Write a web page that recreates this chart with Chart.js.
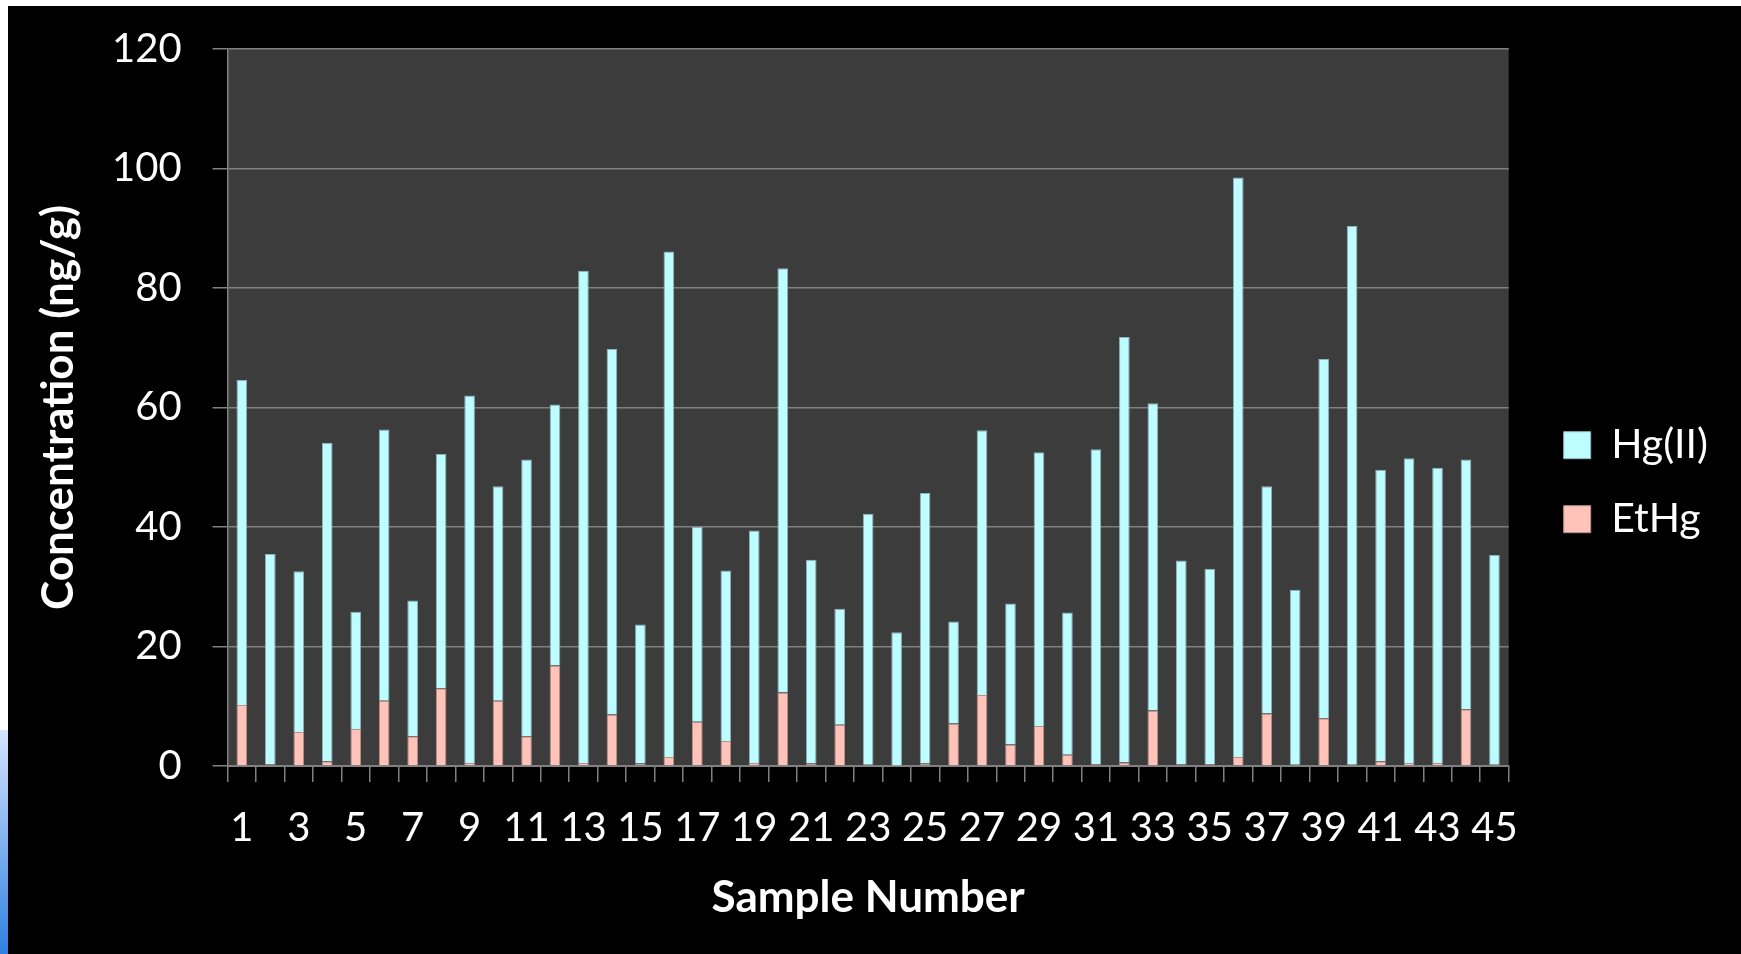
<!DOCTYPE html>
<html>
<head>
<meta charset="utf-8">
<script src="https://cdn.jsdelivr.net/npm/chart.js@4.4.1/dist/chart.umd.min.js"></script>
<style>
  html, body { margin: 0; padding: 0; background: #fff; overflow: hidden; }
  #slide { position: absolute; left: 8px; top: 6px; right: 0; bottom: 0; background: #000; }
  #edge { position: absolute; left: 0; top: 730px; width: 8px; height: 224px; background: linear-gradient(#d6e4ff, #2f80e0); }
  #wrap { position: absolute; left: 0; top: 0; width: 1741px; height: 954px; }
</style>
</head>
<body>
<div id="slide"></div>
<div id="edge"></div>
<div id="wrap"><canvas id="chart"></canvas></div>
<script>
// sample numbers along the x axis
const sampleNumbers = ['1', '2', '3', '4', '5', '6', '7', '8', '9', '10',
  '11', '12', '13', '14', '15', '16', '17', '18', '19', '20',
  '21', '22', '23', '24', '25', '26', '27', '28', '29', '30',
  '31', '32', '33', '34', '35', '36', '37', '38', '39', '40',
  '41', '42', '43', '44', '45'];

// EtHg (bottom of each stack), ng/g
const etHg = [10.2, 0.3, 5.7, 0.8, 6.2, 10.9, 5.0, 13.0, 0.5, 10.9,
  5.0, 16.8, 0.5, 8.6, 0.4, 1.5, 7.4, 4.2, 0.5, 12.3,
  0.4, 6.9, 0.2, 0.1, 0.4, 7.1, 11.9, 3.6, 6.7, 1.9,
  0.3, 0.6, 9.3, 0.3, 0.3, 1.5, 8.8, 0.2, 8.0, 0.2,
  0.8, 0.5, 0.5, 9.5, 0.2];

// Hg(II) (stacked on top), ng/g
const hgII = [54.4, 35.2, 26.9, 53.3, 19.6, 45.4, 22.7, 39.2, 61.5, 35.9,
  46.3, 43.7, 82.4, 61.2, 23.3, 84.6, 32.6, 28.5, 38.9, 71.0,
  34.1, 19.4, 42.0, 22.3, 45.3, 17.1, 44.3, 23.6, 45.8, 23.8,
  52.7, 71.2, 51.4, 34.1, 32.7, 97.0, 38.0, 29.3, 60.1, 90.2,
  48.8, 51.0, 49.4, 41.8, 35.1];

const yMin = 0;
const yMax = 120;
const yStep = 20;

// dark grey plot area behind the bars
const plotBackground = {
  id: 'plotBackground',
  beforeDraw(chart) {
    const { ctx, chartArea: a } = chart;
    ctx.save();
    ctx.fillStyle = '#3c3c3c';
    ctx.fillRect(a.left, a.top, a.right - a.left, a.bottom - a.top);
    ctx.restore();
  }
};

const canvas = document.getElementById('chart');
new Chart(canvas.getContext('2d'), {
  type: 'bar',
  data: {
    labels: sampleNumbers,
    datasets: [
      {
        label: 'EtHg',
        data: etHg,
        backgroundColor: '#ffc3b9',
        borderColor: '#b98e88',
        borderWidth: 1,
        barPercentage: 0.375,
        categoryPercentage: 1
      },
      {
        label: 'Hg(II)',
        data: hgII,
        backgroundColor: '#bdfdff',
        borderColor: '#8fb3bd',
        borderWidth: 1,
        barPercentage: 0.375,
        categoryPercentage: 1
      }
    ]
  },
  options: {
    responsive: true,
    maintainAspectRatio: false,
    animation: false,
    layout: { padding: { top: 48, left: 20, right: 23, bottom: 26 } },
    plugins: {
      tooltip: { enabled: false },
      legend: {
        position: 'right',
        fullSize: false,
        reverse: true,
        // empty title only pushes the two entries down, as in the original
        title: { display: true, text: '', padding: { top: 135, bottom: 0 } },
        labels: {
          color: '#ffffff',
          font: { family: 'Lato', size: 41 },
          boxWidth: 27,
          boxHeight: 27,
          padding: 33
        }
      }
    },
    scales: {
      x: {
        stacked: true,
        grid: { display: true, drawOnChartArea: false, drawTicks: true, tickLength: 16, color: '#808080', lineWidth: 1.5 },
        border: { display: true, color: '#808080', width: 2 },
        ticks: {
          color: '#ffffff',
          font: { family: 'Lato', size: 40 },
          autoSkip: false,
          maxRotation: 0,
          padding: 22,
          callback(value, index) {
            return index % 2 === 0 ? sampleNumbers[index] : '';
          }
        },
        title: {
          display: true,
          text: 'Sample Number',
          color: '#ffffff',
          font: { family: 'Lato', size: 44, weight: 'bold', lineHeight: 1 },
          padding: { top: 2, bottom: 8 }
        }
      },
      y: {
        stacked: true,
        min: yMin,
        max: yMax,
        ticks: {
          stepSize: yStep,
          color: '#ffffff',
          font: { family: 'Lato', size: 40, lineHeight: 0.9 },
          padding: 31
        },
        grid: { color: '#808080', lineWidth: 1.5, tickLength: 15 },
        border: { color: '#808080', width: 1.5 },
        title: {
          display: true,
          text: 'Concentration (ng/g)',
          color: '#ffffff',
          font: { family: 'Lato', size: 44, weight: 'bold', lineHeight: 1 },
          padding: { top: 17, bottom: 0 }
        }
      },
      // empty right-hand scale, only keeps a gap between plot and legend
      gap: {
        type: 'linear',
        position: 'right',
        display: true,
        grid: { display: false },
        ticks: { display: false },
        border: { display: false },
        afterFit(scale) { scale.width = 22; }
      }
    }
  },
  plugins: [plotBackground]
});
</script>
</body>
</html>
